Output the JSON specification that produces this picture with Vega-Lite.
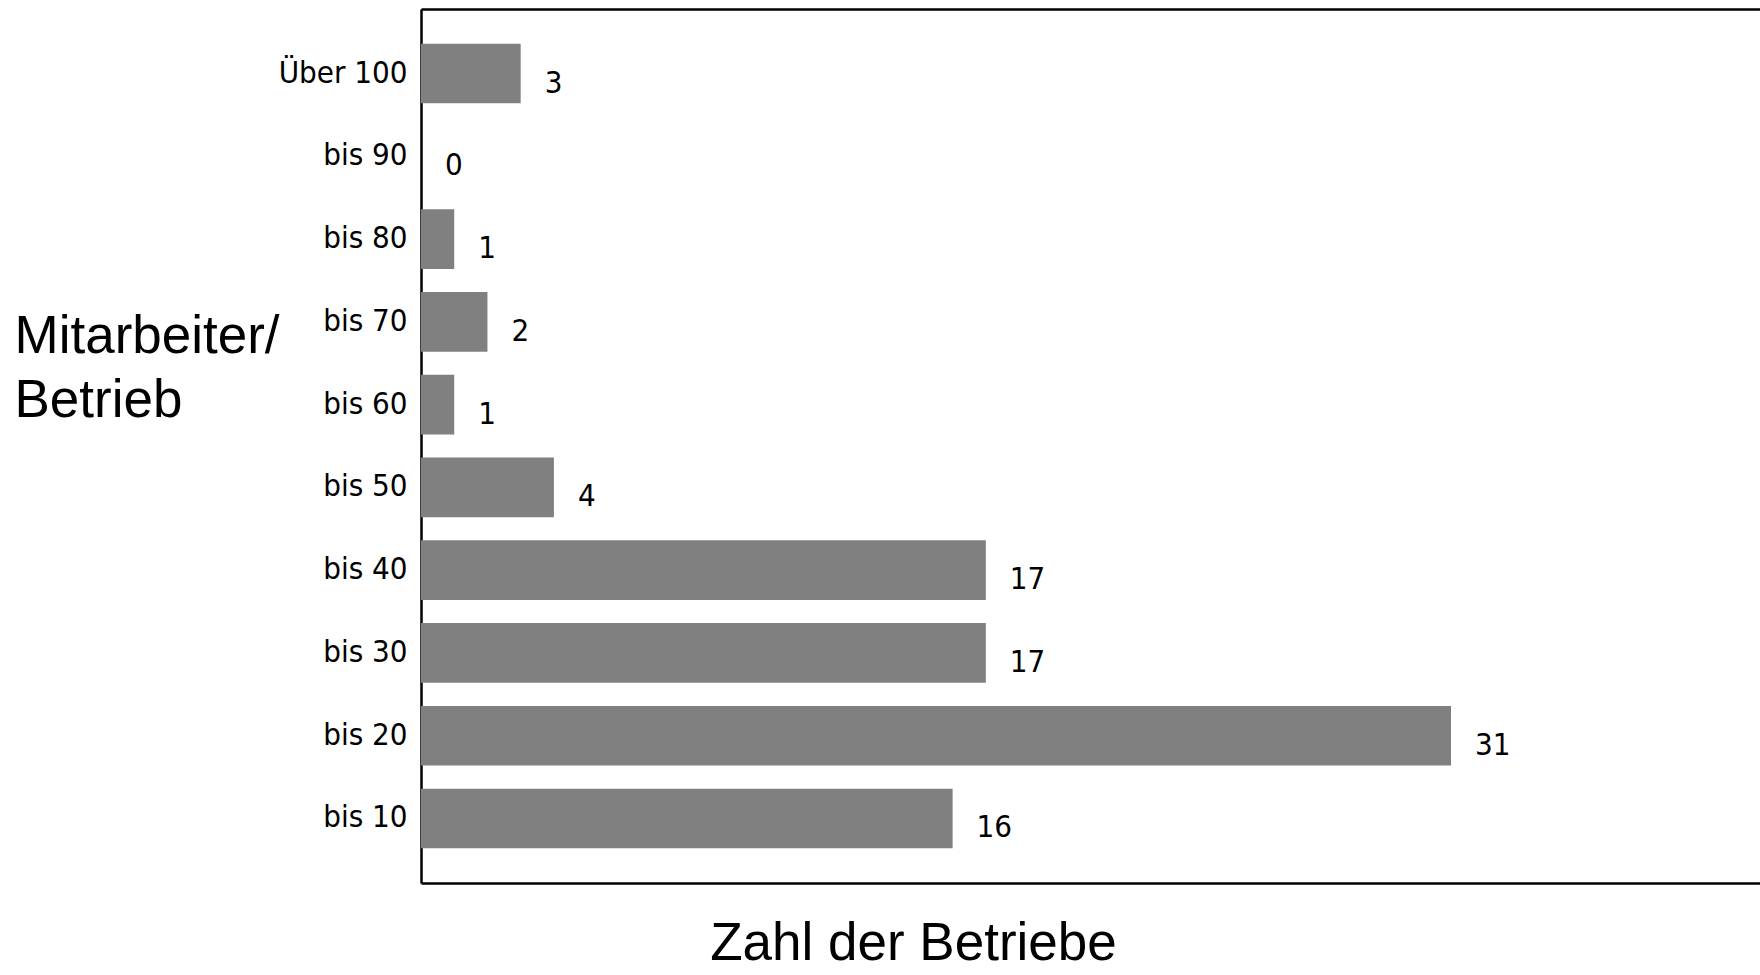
{
  "$schema": "https://vega.github.io/schema/vega-lite/v6.json",
  "width": 1339,
  "height": 874,
  "autosize": {"type": "none"},
  "padding": {"left": 421, "top": 9, "right": 0, "bottom": 92},
  "background": "white",
  "config": {"view": {"stroke": null}},
  "data": {
    "values": [
      {"groesse": "Über 100", "anzahl": 3},
      {"groesse": "bis 90", "anzahl": 0},
      {"groesse": "bis 80", "anzahl": 1},
      {"groesse": "bis 70", "anzahl": 2},
      {"groesse": "bis 60", "anzahl": 1},
      {"groesse": "bis 50", "anzahl": 4},
      {"groesse": "bis 40", "anzahl": 17},
      {"groesse": "bis 30", "anzahl": 17},
      {"groesse": "bis 20", "anzahl": 31},
      {"groesse": "bis 10", "anzahl": 16}
    ]
  },
  "layer": [
    {
      "mark": {"type": "bar", "color": "#808080"},
      "encoding": {
        "y": {
          "field": "groesse",
          "type": "nominal",
          "sort": null,
          "scale": {"paddingInner": 0.28, "paddingOuter": 0.42},
          "axis": {
            "title": ["Mitarbeiter/", "Betrieb"],
            "titleAngle": 0,
            "titleAlign": "left",
            "titleBaseline": "middle",
            "titleX": -407,
            "titleY": 327,
            "titleFont": "Liberation Sans, Arial, sans-serif",
            "titleFontSize": 53,
            "titleFontWeight": "normal",
            "titleLineHeight": 64,
            "titleColor": "black",
            "ticks": false,
            "grid": false,
            "labelPadding": 14,
            "labelFont": "DejaVu Sans Condensed, sans-serif",
            "labelFontSize": 31,
            "labelColor": "black",
            "domainColor": "black",
            "domainWidth": 2.5
          }
        },
        "x": {
          "field": "anzahl",
          "type": "quantitative",
          "scale": {"domain": [0, 40.3], "nice": false},
          "axis": {
            "orient": "bottom",
            "title": "Zahl der Betriebe",
            "labels": false,
            "ticks": false,
            "grid": false,
            "domainColor": "black",
            "domainWidth": 2.5,
            "titleFont": "Liberation Sans, Arial, sans-serif",
            "titleFontSize": 53,
            "titleFontWeight": "normal",
            "titleColor": "black",
            "titleX": 492,
            "titleY": 76,
            "titleAlign": "center",
            "titleBaseline": "alphabetic"
          }
        }
      }
    },
    {
      "mark": {
        "type": "text",
        "align": "left",
        "baseline": "middle",
        "dx": 24,
        "dy": 10,
        "font": "DejaVu Sans Condensed, sans-serif",
        "fontSize": 31,
        "color": "black"
      },
      "encoding": {
        "y": {"field": "groesse", "type": "nominal", "sort": null},
        "x": {
          "field": "anzahl",
          "type": "quantitative",
          "axis": {
            "orient": "top",
            "title": null,
            "labels": false,
            "ticks": false,
            "grid": false,
            "domainColor": "black",
            "domainWidth": 2.5
          }
        },
        "text": {"field": "anzahl", "type": "quantitative"}
      }
    }
  ],
  "resolve": {"axis": {"x": "independent"}}
}
